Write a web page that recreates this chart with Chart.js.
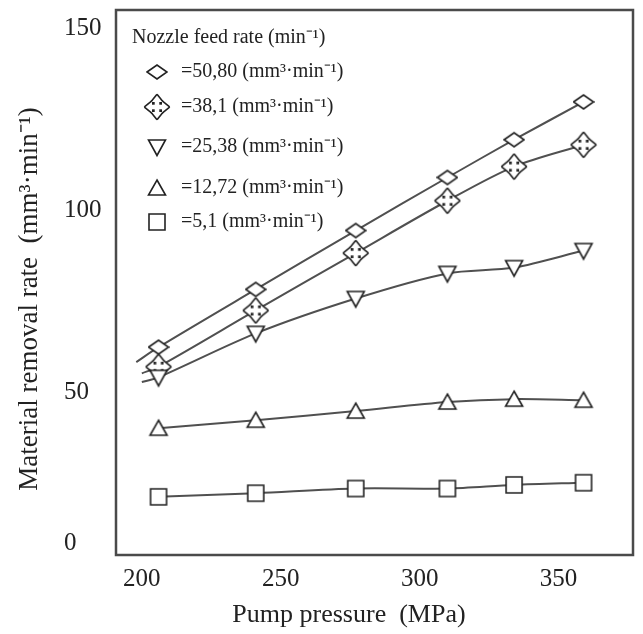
<!DOCTYPE html>
<html>
<head>
<meta charset="utf-8">
<script src="https://cdn.jsdelivr.net/npm/chart.js@4/dist/chart.umd.min.js"></script>
<style>
  html, body { margin: 0; padding: 0; background: #fff; }
  #wrap { width: 643px; height: 634px; position: relative; }
</style>
</head>
<body>
<div id="wrap"><canvas id="grafico"></canvas></div>
<script>
// Pump pressure (MPa) of the measured points
const pressures = [206, 241, 277, 310, 334, 359];
// Material removal rate for each nozzle feed rate
const mrr5080 = [62.4, 78.3, 94.5, 109.1, 119.5, 129.9];
const mrr381  = [57.0, 72.5, 88.3, 102.7, 112.1, 118.1];
const mrr2538 = [54.1, 66.2, 75.8, 82.7, 84.3, 89.0];
const mrr1272 = [40.1, 42.3, 44.8, 47.3, 48.1, 47.8];
const mrr51   = [21.2, 22.2, 23.5, 23.5, 24.5, 25.1];
// where the fitted curves of the three upper series begin (left of the first point)
const curveStartX = [198, 200, 200];
const curveStartY = [58.3, 55.2, 52.8];

const seriesLabels = [
  '=50,80 (mm³·min⁻¹)',
  '=38,1 (mm³·min⁻¹)',
  '=25,38 (mm³·min⁻¹)',
  '=12,72 (mm³·min⁻¹)',
  '=5,1 (mm³·min⁻¹)'
];
const legendTitle = 'Nozzle feed rate (min⁻¹)';
const xTitle = 'Pump pressure  (MPa)';
const yTitle = 'Material removal rate  (mm³·min⁻¹)';
const xTickValues = [200, 250, 300, 350];
const yTickValues = [8.5, 50, 100, 150];
const yTickLabels = ['0', '50', '100', '150'];

const INK = '#222';
const LINE = '#505050';
const SERIF = '"Liberation Serif", "Times New Roman", serif';

// marker images
function marker(kind) {
  const c = document.createElement('canvas');
  const s = kind === 'cross' ? 28 : 22;
  c.width = s; c.height = s;
  const g = c.getContext('2d');
  const m = s / 2;
  g.strokeStyle = INK;
  g.fillStyle = '#fff';
  if (kind === 'cross') {
    // four outward arrowheads on a small plus, outlined as one shape
    const parts = [];
    for (let k = 0; k < 4; k++) {
      const rot = k * Math.PI / 2;
      const tf = p => [m + p[0] * Math.cos(rot) - p[1] * Math.sin(rot), m + p[0] * Math.sin(rot) + p[1] * Math.cos(rot)];
      parts.push([[-5.2, -5], [5.2, -5], [0, -11.5]].map(tf));
      parts.push([[-2.3, 0], [2.3, 0], [2.3, -6], [-2.3, -6]].map(tf));
    }
    const path = pts => { g.beginPath(); pts.forEach((p, i) => i ? g.lineTo(p[0], p[1]) : g.moveTo(p[0], p[1])); g.closePath(); };
    g.lineWidth = 3.2;
    g.lineJoin = 'round';
    parts.forEach(p => { path(p); g.stroke(); });
    parts.forEach(p => { path(p); g.fill(); });
    return c;
  }
  g.lineWidth = 1.6;
  g.lineJoin = 'miter';
  g.beginPath();
  if (kind === 'diamond') {
    g.moveTo(1, m); g.lineTo(m, m - 7); g.lineTo(s - 1, m); g.lineTo(m, m + 7);
  } else if (kind === 'down') {
    g.moveTo(m - 8.5, m - 7); g.lineTo(m + 8.5, m - 7); g.lineTo(m, m + 8.5);
  } else if (kind === 'up') {
    g.moveTo(m, m - 8); g.lineTo(m + 8.5, m + 7); g.lineTo(m - 8.5, m + 7);
  } else {
    g.rect(m - 8, m - 8, 16, 16);
  }
  g.closePath();
  g.fill();
  g.stroke();
  return c;
}

const markers = ['diamond', 'cross', 'down', 'up', 'square'].map(marker);
const series = [mrr5080, mrr381, mrr2538, mrr1272, mrr51];

const datasets = series.map((vals, i) => {
  const pts = pressures.map((p, j) => ({ x: p, y: vals[j] }));
  const hasStart = i < curveStartX.length;
  if (hasStart) pts.unshift({ x: curveStartX[i], y: curveStartY[i] });
  return {
    label: seriesLabels[i],
    data: pts,
    borderColor: LINE,
    borderWidth: 2,
    tension: 0.3,
    pointStyle: markers[i],
    pointRadius: ctx => (hasStart && ctx.dataIndex === 0 ? 0 : 8),
    pointHoverRadius: 8,
    fill: false
  };
}).reverse();

const decor = {
  id: 'decor',
  afterDraw(chart) {
    const ctx = chart.ctx;
    const a = chart.chartArea;
    ctx.save();
    // frame
    ctx.strokeStyle = '#4a4a4a';
    ctx.lineWidth = 2.5;
    ctx.strokeRect(a.left, a.top, a.right - a.left, a.bottom - a.top);

    // legend
    ctx.fillStyle = INK;
    ctx.textBaseline = 'middle';
    ctx.textAlign = 'left';
    ctx.font = '20px ' + SERIF;
    ctx.fillText(legendTitle, 132, 38);
    const rowY = [72, 107, 147, 188, 222];
    seriesLabels.forEach((lab, i) => {
      const mk = markers[i];
      ctx.drawImage(mk, 157 - mk.width / 2, rowY[i] - mk.height / 2);
      ctx.fillText(lab, 181, rowY[i]);
    });

    // axis titles
    ctx.textAlign = 'center';
    ctx.font = '26px ' + SERIF;
    ctx.fillText(xTitle, 349, 615);
    ctx.translate(30, 299);
    ctx.rotate(-Math.PI / 2);
    ctx.font = '27px ' + SERIF;
    ctx.fillText(yTitle, 0, 0);
    ctx.restore();
  }
};

const noPad = s => { s.paddingTop = 0; s.paddingBottom = 0; s.paddingLeft = 0; s.paddingRight = 0; };

new Chart(document.getElementById('grafico'), {
  type: 'line',
  data: { datasets },
  options: {
    responsive: true,
    maintainAspectRatio: false,
    animation: false,
    layout: { padding: { top: 8, right: 3, left: 64, bottom: 0 } },
    plugins: { legend: { display: false }, tooltip: { enabled: false } },
    scales: {
      x: {
        type: 'linear',
        min: 190.7,
        max: 376.8,
        grid: { display: false },
        border: { display: false },
        afterBuildTicks: s => { s.ticks = xTickValues.map(v => ({ value: v })); },
        afterFit: s => { s.height = 79; noPad(s); },
        ticks: { color: INK, font: { family: SERIF, size: 25 }, padding: 1, maxRotation: 0 }
      },
      y: {
        type: 'linear',
        min: 5.2,
        max: 155.2,
        grid: { display: false },
        border: { display: false },
        afterBuildTicks: s => { s.ticks = yTickValues.map(v => ({ value: v })); },
        afterFit: s => { s.width = 52; noPad(s); },
        ticks: {
          color: INK,
          font: { family: SERIF, size: 25 },
          crossAlign: 'far',
          padding: 14,
          callback: (v, i) => yTickLabels[i]
        }
      }
    }
  },
  plugins: [decor]
});
</script>
</body>
</html>
